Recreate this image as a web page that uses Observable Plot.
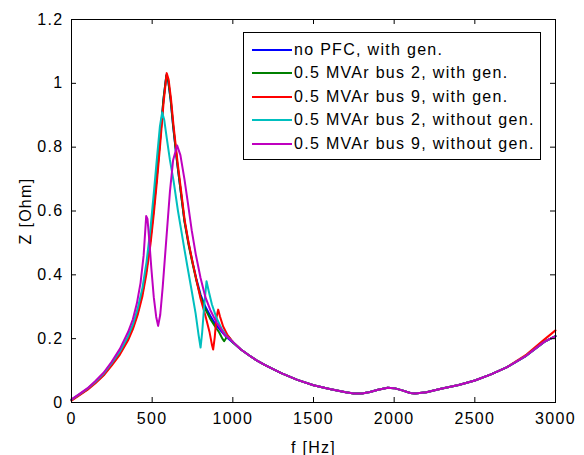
<!DOCTYPE html>
<html>
<head>
<meta charset="utf-8">
<script src="https://cdn.jsdelivr.net/npm/d3@7"></script>
<script src="https://cdn.jsdelivr.net/npm/@observablehq/plot@0.6"></script>
<style>
  html, body { margin: 0; padding: 0; background: #fff; }
  #wrap { position: relative; width: 584px; height: 455px; font-family: "Liberation Sans", Arial, sans-serif; }
  #wrap svg text { letter-spacing: 1.3px; }
  #legend { position: absolute; left: 243px; top: 32px; width: 298px; height: 128px; border: 1px solid #000; background: #fff; box-sizing: border-box; padding-top: 5px; }
  .row { display: flex; align-items: center; height: 23.5px; font-size: 16px; letter-spacing: 1.3px; color: #000; white-space: nowrap; }
  .sw { width: 40px; height: 2px; margin-left: 8px; margin-right: 2px; }
</style>
</head>
<body>
<div id="wrap"></div>
<script>
// Series names and colours
const seriesNames = ["no PFC, with gen.", "0.5 MVAr bus 2, with gen.", "0.5 MVAr bus 9, with gen.", "0.5 MVAr bus 2, without gen.", "0.5 MVAr bus 9, without gen."];
const seriesColors = ["#0000ff", "#008000", "#ff0000", "#00bfbf", "#bf00bf"];

// Axis ticks
const xTicks = [0, 500, 1000, 1500, 2000, 2500, 3000];
const yTicks = [0, 0.2, 0.4, 0.6, 0.8, 1, 1.2];

// Shared high-frequency tail (all curves overlap here)
const fTail = [1050, 1100, 1150, 1200, 1300, 1400, 1500, 1600, 1700, 1750, 1800, 1850, 1900, 1960, 2000, 2050, 2100, 2130, 2200, 2290, 2400, 2500, 2600, 2700, 2820, 2930, 3000];
const zTail = [0.166, 0.148, 0.131, 0.117, 0.092, 0.071, 0.054, 0.042, 0.032, 0.028, 0.028, 0.033, 0.040, 0.046, 0.045, 0.038, 0.030, 0.028, 0.032, 0.043, 0.055, 0.069, 0.088, 0.111, 0.147, 0.190, 0.208];

// no PFC, with gen.
const fBlue = [0, 50, 100, 150, 200, 250, 300, 350, 380, 410, 440, 465, 490, 510, 530, 550, 570, 588, 600, 615, 630, 655, 680, 700, 725, 750, 775, 800, 830, 860, 890, 925, 960, 1000];
const zBlue = [0.008, 0.025, 0.042, 0.064, 0.088, 0.120, 0.155, 0.200, 0.236, 0.282, 0.345, 0.418, 0.515, 0.610, 0.715, 0.830, 0.950, 1.025, 1.005, 0.945, 0.865, 0.750, 0.650, 0.570, 0.500, 0.440, 0.385, 0.338, 0.300, 0.272, 0.247, 0.225, 0.205, 0.188];

// 0.5 MVAr bus 2, with gen.
const fGreen = [0, 50, 100, 150, 200, 250, 300, 350, 380, 410, 440, 465, 490, 510, 530, 550, 570, 588, 600, 615, 630, 655, 680, 700, 725, 750, 775, 800, 830, 860, 890, 915, 935, 946, 956, 966, 980, 1000];
const zGreen = [0.008, 0.025, 0.042, 0.064, 0.088, 0.120, 0.155, 0.200, 0.236, 0.282, 0.345, 0.418, 0.515, 0.610, 0.715, 0.830, 0.950, 1.025, 1.008, 0.948, 0.868, 0.752, 0.650, 0.568, 0.496, 0.436, 0.380, 0.332, 0.292, 0.262, 0.238, 0.220, 0.200, 0.192, 0.200, 0.210, 0.202, 0.188];

// 0.5 MVAr bus 9, with gen.
const fRed = [0, 50, 100, 150, 200, 250, 300, 350, 380, 410, 440, 465, 490, 510, 530, 550, 570, 590, 602, 617, 632, 657, 682, 702, 727, 752, 777, 800, 830, 855, 870, 878, 888, 898, 909, 920, 940, 965, 1000];
const zRed = [0.006, 0.023, 0.040, 0.061, 0.085, 0.116, 0.150, 0.194, 0.229, 0.274, 0.334, 0.405, 0.498, 0.590, 0.695, 0.810, 0.935, 1.032, 1.012, 0.950, 0.870, 0.755, 0.652, 0.570, 0.498, 0.436, 0.378, 0.325, 0.272, 0.222, 0.182, 0.166, 0.205, 0.265, 0.291, 0.270, 0.238, 0.213, 0.190];

// 0.5 MVAr bus 2, without gen.
const fCyan = [0, 50, 100, 150, 200, 250, 300, 350, 380, 410, 440, 465, 490, 510, 530, 548, 562, 575, 590, 610, 634, 660, 680, 700, 717, 745, 769, 788, 800, 810, 822, 837, 850, 870, 900, 930, 960, 1000];
const zCyan = [0.009, 0.026, 0.044, 0.066, 0.091, 0.124, 0.160, 0.207, 0.244, 0.294, 0.360, 0.440, 0.548, 0.655, 0.768, 0.865, 0.909, 0.885, 0.830, 0.760, 0.690, 0.600, 0.540, 0.480, 0.430, 0.350, 0.280, 0.210, 0.172, 0.220, 0.300, 0.380, 0.350, 0.308, 0.263, 0.232, 0.208, 0.190];

// 0.5 MVAr bus 9, without gen.
const fMag = [0, 50, 100, 150, 200, 250, 300, 350, 380, 405, 428, 447, 463, 471, 481, 495, 510, 525, 537, 550, 565, 580, 595, 610, 630, 655, 675, 700, 720, 745, 770, 800, 830, 860, 900, 950, 1000];
const zMag = [0.010, 0.027, 0.045, 0.068, 0.094, 0.128, 0.168, 0.220, 0.260, 0.310, 0.375, 0.460, 0.584, 0.575, 0.515, 0.420, 0.330, 0.268, 0.240, 0.275, 0.360, 0.460, 0.560, 0.660, 0.760, 0.805, 0.775, 0.700, 0.630, 0.540, 0.465, 0.390, 0.330, 0.290, 0.250, 0.212, 0.190];

const seriesF = [fBlue, fGreen, fRed, fCyan, fMag];
const seriesZ = [zBlue, zGreen, zRed, zCyan, zMag];

const data = [];
seriesNames.forEach((name, i) => {
  const f = seriesF[i].concat(fTail);
  const z = seriesZ[i].concat(zTail);
  f.forEach((fv, j) => data.push({series: name, f: fv, z: z[j]}));
});
// red ends slightly above the others near 3000 Hz
const redEnd = data.filter(d => d.series === seriesNames[2] && d.f >= 2820);
redEnd[0].z = 0.150; redEnd[1].z = 0.197; redEnd[2].z = 0.226;

const W = 584, H = 455, mL = 71, mR = 29, mT = 19, mB = 53;
const pw = W - mL - mR, ph = H - mT - mB;
const font = "Liberation Sans, Arial, sans-serif";

const chart = Plot.plot({
  width: W, height: H,
  marginLeft: mL, marginRight: mR, marginTop: mT, marginBottom: mB,
  style: {fontFamily: font, fontSize: "16px", color: "#000", background: "#fff", overflow: "visible"},
  x: {domain: [0, 3000]},
  y: {domain: [0, 1.2]},
  color: {domain: seriesNames, range: seriesColors},
  marks: [
    Plot.line(data, {x: "f", y: "z", z: "series", stroke: "series", strokeWidth: 2, curve: "linear"}),
    // inward ticks on all four sides
    Plot.tickX(xTicks, {x: d => d, insetTop: ph - 5, stroke: "#000"}),
    Plot.tickX(xTicks, {x: d => d, insetBottom: ph - 5, stroke: "#000"}),
    Plot.tickY(yTicks, {y: d => d, insetRight: pw - 5, stroke: "#000"}),
    Plot.tickY(yTicks, {y: d => d, insetLeft: pw - 5, stroke: "#000"}),
    Plot.frame({stroke: "#000"}),
    Plot.axisX(xTicks, {tickSize: 0, tickPadding: 10, fontSize: 16, tickFormat: d => String(d), label: "f [Hz]", labelAnchor: "center", labelArrow: "none", labelOffset: 50}),
    Plot.axisY(yTicks, {tickSize: 0, tickPadding: 8, fontSize: 16, tickFormat: d => String(d), label: "Z [Ohm]", labelAnchor: "center", labelArrow: "none", labelOffset: 52})
  ]
});

const wrap = document.getElementById("wrap");
wrap.appendChild(chart);

const legend = document.createElement("div");
legend.id = "legend";
seriesNames.forEach((name, i) => {
  const row = document.createElement("div");
  row.className = "row";
  const sw = document.createElement("div");
  sw.className = "sw";
  sw.style.background = seriesColors[i];
  const t = document.createElement("span");
  t.textContent = name;
  row.appendChild(sw); row.appendChild(t);
  legend.appendChild(row);
});
wrap.appendChild(legend);
</script>
</body>
</html>
